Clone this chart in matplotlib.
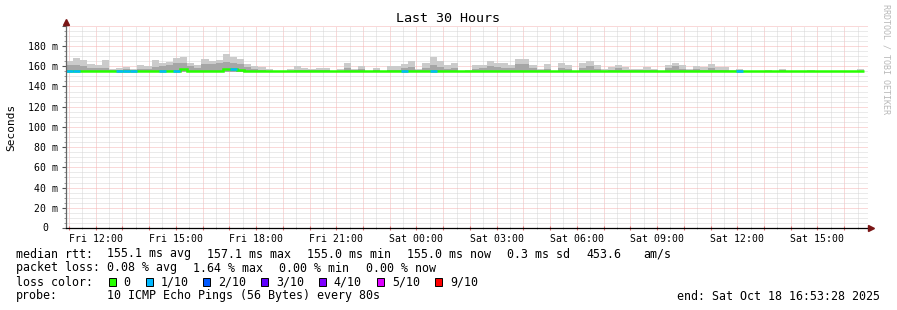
import numpy as np
import matplotlib
matplotlib.use('Agg')
import matplotlib.pyplot as plt
import matplotlib.dates as mdates
from matplotlib.patches import Rectangle
from matplotlib.ticker import MultipleLocator, FuncFormatter
from datetime import datetime, timedelta

# time range of the graph
end_time = datetime(2025, 10, 18, 16, 53, 28)
start_time = end_time - timedelta(hours=30)
step_s = 960  # one consolidated bin = 16 min

# per-bin values in ms
smoke_hi = [
    165.5, 168.5, 166, 162.5, 161, 166, 157.5, 158.5, 159.5, 157.5,
    161, 160, 166, 163, 164, 168, 169, 163.5, 161.5, 167,
    165.5, 166, 172.5, 169, 167, 162, 160, 159, 157.5, 155,
    155, 157.5, 160, 158.5, 157.5, 158.5, 158.5, 155, 157, 163,
    157.5, 160.5, 155, 158, 155, 160, 160, 162, 165, 157,
    163.5, 169, 165, 161, 163.5, 155, 156, 161, 161, 165.5,
    163.5, 163.5, 161, 167, 167, 161, 157, 162, 155, 163.5,
    161, 155, 163, 165.5, 161, 157, 159, 161, 159, 157,
    157, 159, 157, 155, 161, 163.5, 161, 157, 160, 159,
    162, 159, 159, 156, 157, 155, 155, 155, 156, 155,
    157, 155, 155, 155, 156, 155, 155, 155, 155, 155,
    155, 157,
]
smoke_mid = [
    161, 161, 160, 158.5, 158, 158, 156, 156.5, 157, 156,
    157.5, 157, 159, 160, 161, 163, 163, 160, 158, 162,
    162, 163, 164, 163, 162, 159, 157, 156, 155.5, 155,
    155, 155.5, 156.5, 156, 156, 156, 156, 155, 155.5, 158,
    156, 157, 155, 156, 155, 156.5, 156.5, 158, 159, 156,
    158, 161, 159, 157.5, 158.5, 155, 155, 157, 158, 160,
    159, 158, 158.5, 162, 162, 158, 156, 157.5, 155, 158,
    157, 155, 158, 160, 157.5, 155.5, 156.5, 158, 156.5, 156,
    156, 156.5, 156, 155, 158, 160, 157.5, 156, 157, 156.5,
    158, 156.5, 156, 155, 156, 155, 155, 155, 155.5, 155,
    156, 155, 155, 155, 155.5, 155, 155, 155, 155, 155,
    155, 155.5,
]
median_rtt = [
    155, 155, 155, 155, 155, 155, 155, 155, 155, 155,
    155, 155, 155, 155, 155, 155, 157, 155, 155, 155,
    155, 155, 157, 157, 156.5, 155, 155, 155, 155, 155,
    155, 155, 155, 155, 155, 155, 155, 155, 155, 155,
    155, 155, 155, 155, 155, 155, 155, 155, 155, 155,
    155, 155, 155, 155, 155, 155, 155, 155, 155, 155,
    155, 155, 155.5, 155.5, 155.5, 155, 155, 155, 155, 155,
    155, 155, 155, 155, 155, 155, 155, 155, 155, 155,
    155, 155, 155, 155, 155, 155, 155, 155, 155, 155,
    155, 155, 155, 155, 155, 155, 155, 155, 155, 155,
    155, 155, 155, 155, 155, 155, 155, 155, 155, 155,
    155, 155,
]
# lost pings out of 10, per bin
loss = [
    1, 1, 0, 0, 0, 0, 0, 1, 1, 1,
    0, 0, 0, 1, 0, 1, 0, 0, 0, 0,
    0, 0, 0, 1, 0, 0, 0, 0, 0, 0,
    0, 0, 0, 0, 0, 0, 0, 0, 0, 0,
    0, 0, 0, 0, 0, 0, 0, 1, 0, 0,
    0, 1, 0, 0, 0, 0, 0, 0, 0, 0,
    0, 0, 0, 0, 0, 0, 0, 0, 0, 0,
    0, 0, 0, 0, 0, 0, 0, 0, 0, 0,
    0, 0, 0, 0, 0, 0, 0, 0, 0, 0,
    0, 0, 0, 0, 1, 0, 0, 0, 0, 0,
    0, 0, 0, 0, 0, 0, 0, 0, 0, 0,
    0, 0,
]
smoke_floor = 154.5

loss_labels = ['0', '1/10', '2/10', '3/10', '4/10', '5/10', '9/10']
loss_levels = [0, 1, 2, 3, 4, 5, 9]
loss_colors = ['#26ff00', '#00b8ff', '#0059ff', '#5e00ff', '#7e00ff', '#dd00ff', '#ff0000']

W, H = 897, 310
mono = 'DejaVu Sans Mono'
plt.rcParams['font.family'] = mono

fig = plt.figure(figsize=(W / 100, H / 100), dpi=100)
ax = fig.add_axes([66 / W, 82 / H, 802 / W, 202.2 / H])

edges = mdates.date2num([start_time + timedelta(seconds=step_s * i) for i in range(len(median_rtt) + 1)])
med = np.array(median_rtt)
lv = np.array(loss)

# smoke
ax.stairs(smoke_hi, edges, baseline=smoke_floor, fill=True, color='#cbcbcb', lw=0, zorder=2)
ax.stairs(smoke_mid, edges, baseline=smoke_floor, fill=True, color='#a6a6a6', lw=0, zorder=2)

# median line coloured by loss
ax.stairs(med, edges, color=loss_colors[0], lw=1.8, baseline=None, zorder=3)
for lev, col in zip(loss_levels[1:], loss_colors[1:]):
    m = lv == lev
    if m.any():
        ax.hlines(med[m], edges[:-1][m], edges[1:][m], color=col, lw=1.8, zorder=4)

ax.set_xlim(mdates.date2num(start_time), mdates.date2num(end_time))
ax.set_ylim(0, 200)

# grid
ax.xaxis.set_major_locator(mdates.HourLocator())
ax.xaxis.set_minor_locator(mdates.MinuteLocator(byminute=[30]))
ax.xaxis.set_major_formatter(FuncFormatter(
    lambda v, p: mdates.num2date(v).strftime('%a %H:%M') if mdates.num2date(v).hour % 3 == 0 else ''))
ax.yaxis.set_major_locator(MultipleLocator(20))
ax.yaxis.set_minor_locator(MultipleLocator(5))
ax.yaxis.set_major_formatter(FuncFormatter(lambda v, p: f'{int(v)} m' if 0 < v < 200 else ''))
# rrdtool puts the bare zero under the digits, not at the right edge
ax.text(-17.7 / 802, 0, '0', transform=ax.get_yaxis_transform(), ha='right', va='center', size=7.1)

ax.grid(which='major', color='#f4b4b4', lw=0.72, ls=(0, (1, 1)), zorder=1)
ax.grid(which='minor', color='#d6d6d6', lw=0.72, ls=(0, (1, 1)), zorder=1)
ax.set_axisbelow(True)

ax.tick_params(axis='x', which='major', length=3, direction='inout', color='#e07070', labelsize=7.1, pad=3)
ax.tick_params(axis='x', which='minor', length=2, direction='inout', color='#aaaaaa')
ax.tick_params(axis='y', which='major', length=3, direction='out', color='#555555', labelsize=7.1, pad=3)
ax.tick_params(axis='y', which='minor', length=1.5, direction='out', color='#888888')

for s in ['top', 'right']:
    ax.spines[s].set_visible(False)
ax.spines['left'].set_color('#666666')
ax.spines['bottom'].set_color('#000000')
for s in ['left', 'bottom']:
    ax.spines[s].set_linewidth(0.9)
    ax.spines[s].set_zorder(5)

# axis arrows
arrow_col = '#7a1515'
ax.plot([0, 0], [1, 1.02], transform=ax.transAxes, color='#666666', lw=0.9, clip_on=False)
ax.plot([0], [1.02], marker='^', ms=4.5, color=arrow_col, transform=ax.transAxes, clip_on=False, zorder=6)
ax.plot([1, 1.004], [0, 0], transform=ax.transAxes, color='#000000', lw=0.9, clip_on=False)
ax.plot([1.004], [0], marker='>', ms=4.5, color=arrow_col, transform=ax.transAxes, clip_on=False, zorder=6)

# labels
fig.text(448 / W, 1 - 19 / H, 'Last 30 Hours', ha='center', va='center', size=9.6)
fig.text(11 / W, 1 - 127 / H, 'Seconds', rotation=90, ha='center', va='center', size=8)
fig.text(886 / W, 1 - 4 / H, 'RRDTOOL / TOBI OETIKER', rotation=270, ha='center', va='top',
         size=6, color='#b8b8b8')


def ftext(x, y, s, **kw):
    fig.text(x / W, 1 - y / H, s, va='center', size=8.4, **kw)


ftext(16, 254, 'median rtt:')
ftext(107, 254, '155.1 ms avg')
ftext(207, 254, '157.1 ms max')
ftext(307, 254, '155.0 ms min')
ftext(407, 254, '155.0 ms now')
ftext(507, 254, '0.3 ms sd')
ftext(586, 254, '453.6')
ftext(643, 254, 'am/s')

ftext(16, 268, 'packet loss:')
ftext(107, 268, '0.08 % avg')
ftext(193, 268, '1.64 % max')
ftext(279, 268, '0.00 % min')
ftext(366, 268, '0.00 % now')

ftext(16, 282, 'loss color:')
box_x = [108.7, 145.7, 203.3, 261.3, 319.3, 377.3, 435.3]
for bx, lab, col in zip(box_x, loss_labels, loss_colors):
    fig.patches.append(Rectangle((bx / W, 1 - 286 / H), 7 / W, 8 / H, facecolor=col,
                                 edgecolor='black', lw=0.7, transform=fig.transFigure))
    ftext(bx + 14.5, 282, lab)

ftext(16, 296, 'probe:')
ftext(107, 296, '10 ICMP Echo Pings (56 Bytes) every 80s')
ftext(880, 296, 'end: Sat Oct 18 16:53:28 2025', ha='right')

fig.savefig('out.png', dpi=100)
